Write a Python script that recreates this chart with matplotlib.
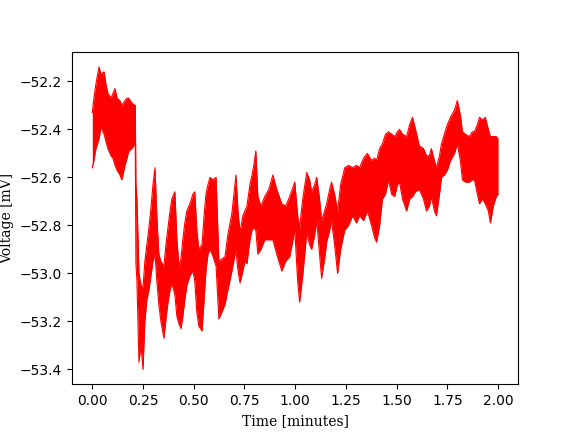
import numpy as np
import matplotlib
matplotlib.use("Agg")
import matplotlib.pyplot as plt

# time (minutes) and the upper / lower envelope of the noisy trace (mV)
t = [0.000, 0.008, 0.018, 0.033, 0.043, 0.058, 0.067, 0.077, 0.092, 0.102,
     0.112, 0.122, 0.136, 0.146, 0.161, 0.171, 0.180, 0.195, 0.210, 0.212,
     0.215, 0.220, 0.230, 0.240, 0.250, 0.259, 0.269, 0.279, 0.289, 0.299,
     0.309, 0.318, 0.328, 0.338, 0.353, 0.363, 0.373, 0.383, 0.392, 0.407,
     0.417, 0.427, 0.437, 0.446, 0.456, 0.466, 0.481, 0.496, 0.505, 0.515,
     0.525, 0.541, 0.551, 0.560, 0.570, 0.580, 0.595, 0.610, 0.624, 0.639,
     0.654, 0.668, 0.688, 0.708, 0.718, 0.728, 0.742, 0.752, 0.762, 0.777,
     0.787, 0.796, 0.806, 0.816, 0.831, 0.850, 0.870, 0.890, 0.909, 0.934,
     0.953, 0.973, 0.998, 1.012, 1.022, 1.037, 1.057, 1.071, 1.081, 1.096,
     1.106, 1.120, 1.130, 1.145, 1.155, 1.170, 1.179, 1.194, 1.209, 1.224,
     1.244, 1.263, 1.283, 1.302, 1.317, 1.337, 1.356, 1.376, 1.391, 1.401,
     1.416, 1.430, 1.445, 1.460, 1.475, 1.490, 1.504, 1.514, 1.529, 1.549,
     1.564, 1.578, 1.593, 1.612, 1.632, 1.647, 1.661, 1.671, 1.686, 1.696,
     1.711, 1.721, 1.735, 1.750, 1.765, 1.785, 1.799, 1.814, 1.824, 1.839,
     1.858, 1.873, 1.883, 1.898, 1.908, 1.922, 1.937, 1.952, 1.962, 1.976,
     1.991, 2.000]

v_upper = [-52.33, -52.27, -52.21, -52.14, -52.17, -52.16, -52.21, -52.25, -52.27, -52.25,
           -52.23, -52.27, -52.28, -52.30, -52.28, -52.27, -52.27, -52.29, -52.30, -52.30,
           -52.63, -52.69, -53.00, -53.05, -53.06, -52.95, -52.88, -52.81, -52.73, -52.63,
           -52.56, -52.76, -52.92, -52.95, -52.97, -52.88, -52.81, -52.74, -52.69, -52.66,
           -52.86, -52.97, -52.94, -52.86, -52.79, -52.74, -52.71, -52.67, -52.66, -52.82,
           -52.90, -52.88, -52.76, -52.67, -52.63, -52.60, -52.61, -52.60, -52.95, -52.94,
           -52.93, -52.84, -52.75, -52.59, -52.74, -52.83, -52.76, -52.74, -52.72, -52.63,
           -52.59, -52.55, -52.49, -52.68, -52.72, -52.68, -52.65, -52.59, -52.65, -52.71,
           -52.72, -52.68, -52.62, -52.76, -52.81, -52.69, -52.58, -52.61, -52.66, -52.63,
           -52.60, -52.69, -52.78, -52.74, -52.71, -52.65, -52.62, -52.67, -52.74, -52.63,
           -52.56, -52.55, -52.56, -52.55, -52.56, -52.52, -52.50, -52.53, -52.52, -52.53,
           -52.48, -52.46, -52.42, -52.41, -52.42, -52.43, -52.41, -52.40, -52.42, -52.43,
           -52.38, -52.35, -52.40, -52.47, -52.48, -52.51, -52.51, -52.48, -52.53, -52.56,
           -52.51, -52.46, -52.42, -52.38, -52.35, -52.32, -52.28, -52.34, -52.41, -52.42,
           -52.43, -52.41, -52.41, -52.38, -52.35, -52.36, -52.35, -52.40, -52.43, -52.43,
           -52.43, -52.44]

v_lower = [-52.56, -52.53, -52.48, -52.44, -52.39, -52.42, -52.45, -52.48, -52.51, -52.52,
           -52.55, -52.57, -52.59, -52.61, -52.55, -52.52, -52.49, -52.48, -52.46, -52.48,
           -52.96, -53.03, -53.37, -53.30, -53.40, -53.20, -53.11, -53.07, -53.01, -52.95,
           -52.92, -53.03, -53.13, -53.20, -53.27, -53.19, -53.12, -53.07, -53.04, -53.09,
           -53.18, -53.21, -53.23, -53.18, -53.11, -53.05, -53.01, -52.99, -53.03, -53.16,
           -53.22, -53.24, -53.11, -52.99, -52.92, -52.90, -52.93, -52.97, -53.19, -53.16,
           -53.13, -53.07, -52.99, -52.90, -52.99, -53.04, -52.99, -52.95, -52.96, -52.86,
           -52.82, -52.81, -52.82, -52.92, -52.90, -52.86, -52.86, -52.86, -52.92, -52.99,
           -52.95, -52.93, -52.82, -53.03, -53.12, -53.01, -52.83, -52.88, -52.90, -52.84,
           -52.78, -52.92, -53.02, -52.94, -52.87, -52.82, -52.78, -52.88, -53.00, -52.90,
           -52.82, -52.80, -52.76, -52.79, -52.76, -52.78, -52.74, -52.80, -52.85, -52.87,
           -52.80, -52.69, -52.67, -52.61, -52.67, -52.68, -52.63, -52.62, -52.69, -52.74,
           -52.69, -52.68, -52.66, -52.65, -52.69, -52.74, -52.72, -52.68, -52.74, -52.76,
           -52.67, -52.60, -52.59, -52.57, -52.53, -52.50, -52.46, -52.53, -52.61, -52.62,
           -52.62, -52.61, -52.61, -52.67, -52.71, -52.69, -52.71, -52.74, -52.79, -52.72,
           -52.68, -52.67]

fig, ax = plt.subplots(figsize=(5.76, 4.32), dpi=100)

ax.fill_between(t, v_lower, v_upper, color='red', linewidth=0)  # dense noise band
ax.plot(t, v_upper, color='red', linewidth=0.8)
ax.plot(t, v_lower, color='red', linewidth=0.8)

ax.set_xlabel("Time [minutes]", family='DejaVu Serif')
ax.set_ylabel("Voltage [mV]", family='DejaVu Serif')

fig.savefig("out.png", dpi=100)
